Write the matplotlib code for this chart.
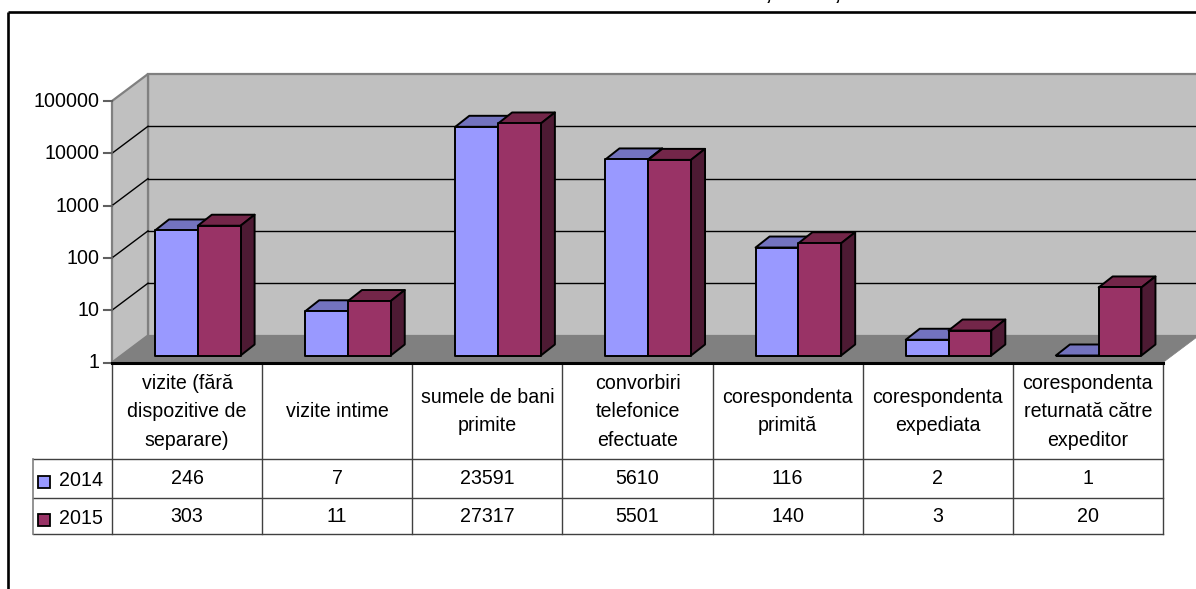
import numpy as np
import matplotlib
matplotlib.use("Agg")
import matplotlib.pyplot as plt
from matplotlib.patches import Polygon, Rectangle
from matplotlib.transforms import Affine2D

plt.rcParams['font.family'] = ['Liberation Sans', 'DejaVu Sans']

categories = ["vizite (fără\ndispozitive de\nseparare)", "vizite intime",
              "sumele de bani\nprimite", "convorbiri\ntelefonice\nefectuate",
              "corespondenta\nprimită", "corespondenta\nexpediata",
              "corespondenta\nreturnată către\nexpeditor"]
years = ["2014", "2015"]
v2014 = [246, 7, 23591, 5610, 116, 2, 1]
v2015 = [303, 11, 27317, 5501, 140, 3, 20]
y_ticks = [1, 10, 100, 1000, 10000, 100000]

W, H = 1196, 589
fs = 14.1

fig = plt.figure(figsize=(W / 100, H / 100), dpi=100, facecolor='white')

# front plane of the fake 3d box, everything else is shifted from it in pixels
ax = fig.add_axes([112 / W, 1 - 362.5 / H, 1051 / W, 261.5 / H])
ax.set_xlim(0, 7)
ax.set_yscale('log')
ax.set_ylim(1, 100000)
ax.axis('off')


def shift(dx, dy):
    return ax.transData + Affine2D().translate(dx, dy)


def px(pts, **kw):
    ax.add_patch(Polygon(pts, closed=True, transform=None, clip_on=False, **kw))


back = np.array((36, 27))
p0 = ax.transData.transform((0, 1))
p1 = ax.transData.transform((0, 100000))
f0 = ax.transData.transform((7, 1))
f1 = ax.transData.transform((7, 100000))

# back wall, left wall, floor
px([p0 + back, f0 + back, f1 + back, p1 + back], fc='#C0C0C0', ec='#808080', lw=1.6, zorder=1)
px([p0, p0 + back, p1 + back, p1], fc='#C0C0C0', ec='#808080', lw=1.6, zorder=1.1)
px([p0, p0 + back, f0 + back, f0], fc='#808080', ec='#808080', lw=0.5, zorder=1.2)

# gridlines on back wall and left wall
for t in y_ticks[1:-1]:
    a = ax.transData.transform((0, t))
    ax.plot([0, 7], [t, t], color='black', lw=1, transform=shift(*back), clip_on=False, zorder=1.5)
    ax.plot([a[0], a[0] + back[0]], [a[1], a[1] + back[1]], color='black', lw=1,
            transform=None, clip_on=False, zorder=1.5)

# y ticks and labels
for t in y_ticks:
    a = ax.transData.transform((0, t))
    ax.plot([a[0] - 8, a[0]], [a[1], a[1]], color='#606060', lw=1.5, transform=None, clip_on=False, zorder=2)
    ax.text(a[0] - 12, a[1] - 0.5, str(t), ha='right', va='center', fontsize=fs, transform=None, color='black')

# bars
bar_w = 42.8 / 150.14
start = 33.5 / 150.14
off = np.array((9.5, 7))
d = np.array((14, 11))
colors = [('#9999FF', '#7373BF', '#3D3D66'), ('#993366', '#732649', '#4D1A33')]
for i in range(len(categories)):
    for j, vals in enumerate([v2014, v2015]):
        v = vals[i]
        x0 = i + start + j * bar_w
        x1 = x0 + bar_w
        front, top, side = colors[j]
        z = 3 + i + j * 0.1
        a = ax.transData.transform((x0, 1)) + off
        b = ax.transData.transform((x1, v)) + off
        kw = dict(ec='black', lw=1.4, joinstyle='round', zorder=z)
        px([(a[0], b[1]), (b[0], b[1]), (b[0] + d[0], b[1] + d[1]), (a[0] + d[0], b[1] + d[1])], fc=top, **kw)
        px([(b[0], a[1]), (b[0] + d[0], a[1] + d[1]), (b[0] + d[0], b[1] + d[1]), (b[0], b[1])], fc=side, **kw)
        px([(a[0], a[1]), (b[0], a[1]), (b[0], b[1]), (a[0], b[1])], fc=front, **kw)

# data table below the plot
tb = fig.add_axes([112 / W, 1 - 533.5 / H, 1051 / W, 171 / H])
tb.set_xlim(0, 7)
tb.set_ylim(171, 0)
tb.axis('off')
row_y = [0, 96.5, 135.5, 171]
line = dict(color='#404040', lw=1, clip_on=False)
for k in range(8):
    tb.plot([k, k], [0, 171], **line)
tb.plot([0, 7], [0, 0], color='black', lw=2.2, clip_on=False)
lx = -79 / 150.14
for r in row_y[1:]:
    tb.plot([lx, 7], [r, r], **line)
tb.plot([lx, lx], [row_y[1], 171], color='#808080', lw=1.2, clip_on=False)

for k, c in enumerate(categories):
    tb.text(k + 0.5, row_y[1] / 2 + 1, c, ha='center', va='center', fontsize=fs, linespacing=1.62, clip_on=False)
for r, vals in enumerate([v2014, v2015]):
    ym = (row_y[r + 1] + row_y[r + 2]) / 2
    for k, v in enumerate(vals):
        tb.text(k + 0.5, ym + r, str(v), ha='center', va='center', fontsize=fs)
    tb.text(-9 / 150.14, ym + 2 + r, years[r], ha='right', va='center', fontsize=fs)
    tb.add_patch(Rectangle((-74 / 150.14, ym - 3 + r * 1.5), 12 / 150.14, 12, fc=colors[r][0], ec='black', lw=1.3,
                           clip_on=False))

# outer frame, cut by the crop on the right and bottom
frame = dict(color='black', lw=1.9, transform=fig.transFigure, solid_capstyle='butt')
fig.add_artist(plt.Line2D([8 / W, 8 / W], [0, 1 - 11.5 / H], **frame))
fig.add_artist(plt.Line2D([7.5 / W, 1], [1 - 12 / H, 1 - 12 / H], **frame))

# only the comma marks of the cropped title are left in the picture
fig.text(766 / W, 1, ",", fontsize=fs, fontweight='bold', va='baseline', ha='left')
fig.text(835 / W, 1, ",", fontsize=fs, fontweight='bold', va='baseline', ha='left')

fig.savefig("out.png", dpi=100)
